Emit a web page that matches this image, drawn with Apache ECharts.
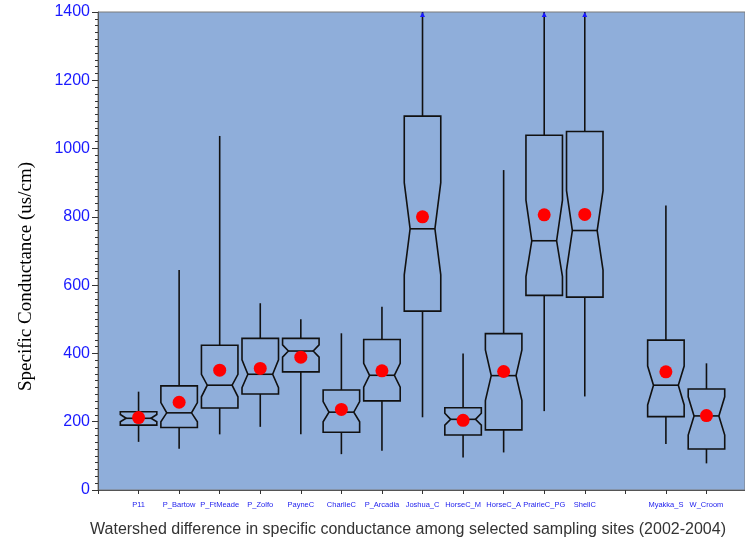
<!DOCTYPE html>
<html>
<head>
<meta charset="utf-8">
<script src="https://cdn.jsdelivr.net/npm/echarts@6/dist/echarts.min.js"></script>
<style>
  html, body { margin: 0; padding: 0; background: #ffffff; }
  #chart { width: 745px; height: 547px; }
</style>
</head>
<body>
<div id="chart"></div>
<script>
// Sampling sites along the x axis; empty strings are blank slots (spacer positions)
const sites = ['', 'P11', 'P_Bartow', 'P_FtMeade', 'P_Zolfo', 'PayneC', 'CharlieC', 'P_Arcadia',
  'Joshua_C', 'HorseC_M', 'HorseC_A', 'PrairieC_PG', 'ShellC', '', 'Myakka_S', 'W_Croom'];

// Box-plot statistics, specific conductance (us/cm)
const whiskerLow  = [null, 141, 121, 163, 185, 163, 105, 115,  213,  95, 110,  231,  274, null, 135,  78];
const q1          = [null, 190, 183, 240, 281, 346, 169, 261,  524, 161, 176,  570,  565, null, 215, 120];
const notchLow    = [null, 200, 200, 273, 300, 389, 200, 301,  630, 190, 262,  625,  644, null, 249, 161];
const median      = [null, 210, 226, 307, 339, 407, 228, 336,  765, 207, 335,  730,  760, null, 307, 217];
const notchHigh   = [null, 221, 256, 339, 381, 425, 259, 371,  900, 225, 410,  849,  877, null, 363, 273];
const q3          = [null, 229, 305, 424, 444, 444, 293, 441, 1095, 241, 458, 1039, 1050, null, 439, 296];
const whiskerHigh = [null, 288, 644, 1037, 547, 500, 459, 537, 1400, 400, 937, 1400, 1400, null, 833, 371];
const mean        = [null, 212, 257, 351, 356, 389, 236, 349,  800, 204, 347,  806,  807, null, 346, 218];

// Y axis ticks
const yMin = 0, yMax = 1400, yStep = 200;

const boxData = [];
const meanData = [];
sites.forEach((s, i) => {
  if (q1[i] == null) return;
  boxData.push([i, whiskerLow[i], q1[i], notchLow[i], median[i], notchHigh[i], q3[i], whiskerHigh[i]]);
  meanData.push([i, mean[i]]);
});

function renderBox(params, api) {
  const x = api.value(0);
  const wl = api.value(1), lo = api.value(2), nl = api.value(3), md = api.value(4),
        nh = api.value(5), hi = api.value(6), wh = api.value(7);
  const cx = api.coord([x, md])[0];
  const hw = api.size([1, 0])[0] * 0.45;
  const iw = hw * 0.68;
  const Y = v => api.coord([x, v])[1];
  const stroke = { stroke: '#111', lineWidth: 1.6, fill: null };
  const children = [
    { type: 'line', shape: { x1: cx, y1: Y(hi), x2: cx, y2: Y(wh) }, style: stroke },
    { type: 'line', shape: { x1: cx, y1: Y(lo), x2: cx, y2: Y(wl) }, style: stroke },
    { type: 'polygon', shape: { points: [
        [cx - hw, Y(hi)], [cx + hw, Y(hi)], [cx + hw, Y(nh)], [cx + iw, Y(md)],
        [cx + hw, Y(nl)], [cx + hw, Y(lo)], [cx - hw, Y(lo)], [cx - hw, Y(nl)],
        [cx - iw, Y(md)], [cx - hw, Y(nh)] ] }, style: stroke },
    { type: 'line', shape: { x1: cx - iw, y1: Y(md), x2: cx + iw, y2: Y(md) }, style: stroke }
  ];
  if (wh >= yMax) {
    const yt = Y(yMax);
    children.push({ type: 'polygon', shape: { points: [[cx, yt], [cx - 2.5, yt + 5], [cx + 2.5, yt + 5]] },
      style: { fill: '#1a1aff' } });
  }
  return { type: 'group', children };
}

// The plot runs to the right edge of the canvas; the last unit is only partly shown
const xMax = 15.95;

const chart = echarts.init(document.getElementById('chart'), null, { renderer: 'canvas' });
chart.setOption({
  animation: false,
  backgroundColor: '#ffffff',
  grid: {
    left: 98, top: 12, right: 0, height: 478,
    show: true, backgroundColor: '#8FAEDA', borderColor: '#7a7a7a', borderWidth: 1
  },
  xAxis: {
    type: 'value', min: 0, max: xMax, interval: 1, offset: 3,
    axisLine: { show: true, lineStyle: { color: '#555', width: 1 } },
    axisTick: { show: true, length: 4, lineStyle: { color: '#333' } },
    splitLine: { show: false },
    axisLabel: {
      margin: 8, color: '#2222ee', fontSize: 7.5,
      fontFamily: '"Liberation Sans", Arial',
      showMaxLabel: false,
      formatter: v => (Number.isInteger(v) && sites[v]) ? sites[v] : ''
    }
  },
  yAxis: {
    type: 'value', min: yMin, max: yMax, interval: yStep,
    axisLine: { show: true, lineStyle: { color: '#555', width: 1 } },
    axisTick: { show: true, length: 6, lineStyle: { color: '#333' } },
    minorTick: { show: true, splitNumber: 10, length: 3, lineStyle: { color: '#333' } },
    splitLine: { show: false },
    axisLabel: { margin: 8, color: '#1a1aff', fontSize: 16, fontFamily: 'Liberation Sans, Arial',
      formatter: v => String(v) }
  },
  graphic: [
    {
      type: 'text', left: 17, top: 162,
      rotation: Math.PI / 2,
      style: {
        text: 'Specific Conductance (us/cm)', fill: '#000',
        font: '19px "Liberation Serif", "Times New Roman", serif'
      },
      originX: 0, originY: 0
    },
    {
      type: 'text', x: 408, y: 530,
      style: {
        text: 'Watershed difference in specific conductance among selected sampling sites (2002-2004)',
        fill: '#333', font: '16px "Liberation Sans", Arial, sans-serif',
        textAlign: 'center', textVerticalAlign: 'middle'
      }
    }
  ],
  series: [
    {
      type: 'custom', renderItem: renderBox, data: boxData, clip: true,
      encode: { x: 0, y: [1, 2, 3, 4, 5, 6, 7] }, z: 2
    },
    {
      type: 'scatter', data: meanData, symbol: 'circle', symbolSize: 13,
      itemStyle: { color: '#ff0000', opacity: 1 }, z: 3
    }
  ]
});
</script>
</body>
</html>
